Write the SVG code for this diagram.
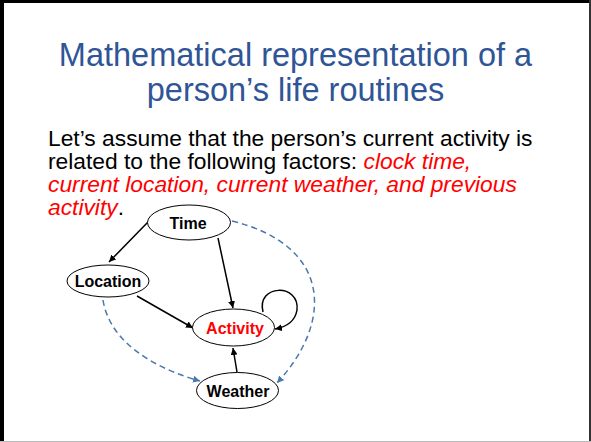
<svg xmlns="http://www.w3.org/2000/svg" width="591" height="442" viewBox="0 0 591 442">
<defs>
<style>
.title{font-family:"Liberation Sans",Arial,sans-serif;font-size:32.5px;fill:#2f5597;text-anchor:middle}
.body{font-family:"Liberation Sans",Arial,sans-serif;font-size:22.8px;fill:#000}
.red{fill:#ff0000;font-style:italic}
.node{fill:#fff;stroke:#000;stroke-width:1}
.lbl{font-family:"Liberation Sans",Arial,sans-serif;font-size:16px;font-weight:bold;text-anchor:middle;fill:#000}
.solid{fill:none;stroke:#000;stroke-width:1.5;marker-end:url(#ab)}
.dash{fill:none;stroke:#4a78aa;stroke-width:1.5;stroke-dasharray:6 4;marker-end:url(#ag)}
</style>
<marker id="ab" viewBox="0 0 10 10" refX="10" refY="5" markerWidth="7" markerHeight="7" markerUnits="userSpaceOnUse" orient="auto"><path d="M0,0 L10,5 L0,10 z" fill="#000"/></marker>
<marker id="ag" viewBox="0 0 10 10" refX="10" refY="5" markerWidth="7" markerHeight="7" markerUnits="userSpaceOnUse" orient="auto"><path d="M0,0 L10,5 L0,10 z" fill="#4a78aa"/></marker>
</defs>
<rect x="0" y="0" width="591" height="442" fill="#fff"/>
<rect x="0" y="0" width="4" height="442" fill="#000"/>
<rect x="0" y="0" width="591" height="3" fill="#000"/>
<rect x="589" y="0" width="2" height="442" fill="#333"/>
<rect x="0" y="441" width="591" height="1" fill="#bbb"/>
<text class="title" x="295.5" y="66">Mathematical representation of a</text>
<text class="title" x="295.5" y="101">person’s life routines</text>
<text class="body" x="48" y="146">Let’s assume that the person’s current activity is</text>
<text class="body" x="48" y="169">related to the following factors: <tspan class="red">clock time,</tspan></text>
<text class="body red" x="48" y="192">current location, current weather, and previous</text>
<text class="body" x="48" y="215"><tspan class="red">activity</tspan>.</text>
<g id="connectors">
<path class="solid" d="M148,222 L109,262"/>
<path class="solid" d="M218,238 L233,308"/>
<path class="solid" d="M137,296 L193,328"/>
<path class="solid" d="M237,372 L233,348"/>
<path class="solid" d="M263,312 C256,284 300,283 297,310 C295,322 286,327 275,329"/>
<path class="dash" d="M232,221 C330,245 335,320 277,383"/>
<path class="dash" d="M103,300 C110,345 160,370 200,381"/>
</g>
<g id="time"><ellipse class="node" cx="189" cy="222.5" rx="41.5" ry="17.5"/><text class="lbl" x="188" y="228.5">Time</text></g>
<g id="location"><ellipse class="node" cx="108" cy="281" rx="41" ry="16"/><text class="lbl" x="108" y="287">Location</text></g>
<g id="activity"><ellipse class="node" cx="233.5" cy="327.5" rx="41" ry="18.5"/><text class="lbl" x="235" y="333.5" style="fill:#ff0000">Activity</text></g>
<g id="weather"><ellipse class="node" cx="237.5" cy="390.5" rx="41" ry="18"/><text class="lbl" x="238" y="396.5">Weather</text></g>
</svg>
